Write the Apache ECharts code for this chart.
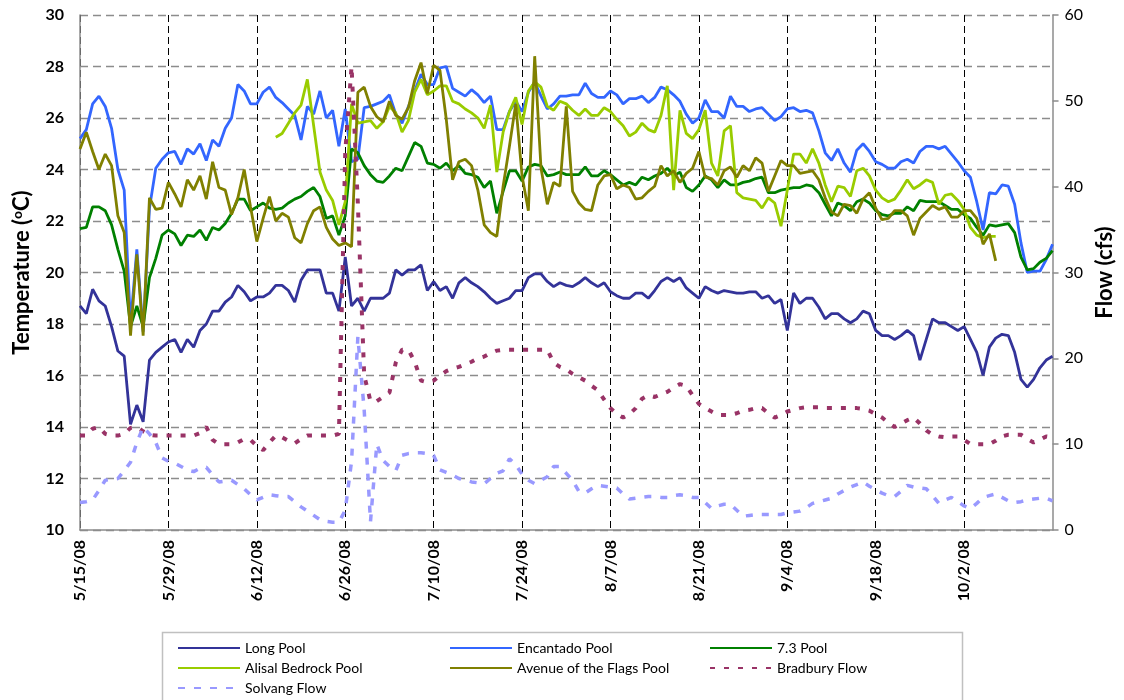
<!DOCTYPE html>
<html>
<head>
<meta charset="utf-8">
<title>Pool temperatures and flow 2008</title>
<script src="https://cdn.jsdelivr.net/npm/echarts@6/dist/echarts.min.js"></script>
<style>
  html, body { margin: 0; padding: 0; background: #fff; }
  #chart { width: 1124px; height: 700px; }
</style>
</head>
<body>
<div id="chart"></div>
<script>
// daily readings, 5/15/08 .. 10/16/08
const startDay = new Date(2008, 4, 15);
const dayCount = 155;
const labelStep = 14;

const longPool = [
  18.7, 18.4, 19.35, 18.9, 18.7, 17.9, 16.95, 16.75, 14.1, 14.85,
  14.2, 16.6, 16.9, 17.1, 17.3, 17.4, 16.9, 17.4, 17.1, 17.75,
  18.0, 18.5, 18.5, 18.85, 19.05, 19.5, 19.25, 18.9, 19.05, 19.05,
  19.2, 19.5, 19.5, 19.3, 18.85, 19.7, 20.1, 20.1, 20.1, 19.2,
  19.2, 18.5, 20.6, 18.7, 19.0, 18.5, 19.0, 19.0, 19.0, 19.2,
  20.1, 19.9, 20.1, 20.1, 20.3, 19.3, 19.65, 19.3, 19.45, 19.0,
  19.6, 19.8, 19.6, 19.45, 19.25, 19.0, 18.8, 18.9, 19.0, 19.3,
  19.3, 19.8, 19.95, 19.95, 19.65, 19.45, 19.6, 19.5, 19.45, 19.6,
  19.8, 19.6, 19.45, 19.6, 19.25, 19.1, 19.0, 19.0, 19.2, 19.2,
  19.0, 19.3, 19.65, 19.8, 19.65, 19.8, 19.4, 19.2, 19.0, 19.45,
  19.3, 19.2, 19.3, 19.25, 19.2, 19.2, 19.25, 19.25, 19.0, 19.1,
  18.8, 18.95, 17.75, 19.2, 18.8, 19.0, 19.0, 18.65, 18.2, 18.4,
  18.4, 18.2, 18.05, 18.2, 18.5, 18.4, 17.75, 17.55, 17.55, 17.4,
  17.55, 17.75, 17.55, 16.6, 17.4, 18.2, 18.05, 18.05, 17.9, 17.75,
  17.9, 17.4, 16.9, 16.0, 17.1, 17.45, 17.6, 17.55, 16.9, 15.85,
  15.55, 15.85, 16.3, 16.6, 16.75
];

const encantadoPool = [
  25.2, 25.55, 26.55, 26.85, 26.45, 25.6, 24.0, 23.2, 18.0, 20.9,
  17.7, 22.5, 24.05, 24.4, 24.65, 24.7, 24.2, 24.8, 24.6, 25.0,
  24.35, 25.15, 24.9, 25.6, 26.0, 27.3, 27.05, 26.55, 26.55, 27.0,
  27.2, 26.8, 26.6, 26.35, 26.1, 25.15, 26.45, 26.15, 27.05, 26.0,
  26.3, 24.9, 26.35, 24.3, 24.4, 26.4, 26.45, 26.55, 26.65, 26.9,
  26.15, 25.8, 26.45, 27.05, 27.7, 27.3, 27.3, 27.95, 28.0, 27.15,
  27.0, 26.85, 27.1, 26.9, 26.6, 26.85, 25.55, 25.55, 26.25, 26.65,
  26.25, 27.0, 27.4, 26.85, 26.35, 26.55, 26.85, 26.85, 26.9, 26.9,
  27.35, 26.95, 26.8, 26.8, 27.05, 26.9, 26.55, 26.75, 26.75, 26.85,
  26.6, 26.8, 27.2, 27.1, 26.9, 26.65, 26.15, 25.8, 26.0, 26.7,
  26.25, 26.25, 26.0, 26.85, 26.45, 26.45, 26.25, 26.35, 26.4, 26.15,
  25.9, 26.05, 26.35, 26.4, 26.25, 26.3, 26.2, 25.5, 24.65, 24.35,
  24.8, 24.25, 23.9, 24.75, 25.0, 24.7, 24.3, 24.2, 24.05, 24.05,
  24.3, 24.4, 24.25, 24.7, 24.9, 24.9, 24.8, 24.9, 24.6, 24.3,
  23.95, 23.7, 22.75, 21.65, 23.1, 23.05, 23.4, 23.35, 22.65, 21.15,
  20.0, 20.05, 20.05, 20.5, 21.1
];

const pool73 = [
  21.7, 21.75, 22.55, 22.55, 22.4, 21.85, 20.9, 20.05, 17.9, 18.7,
  17.9, 19.8, 20.55, 21.45, 21.65, 21.5, 21.05, 21.45, 21.4, 21.65,
  21.25, 21.75, 21.65, 21.9, 22.3, 22.85, 22.85, 22.4, 22.55, 22.7,
  22.5, 22.45, 22.5, 22.7, 22.85, 22.95, 23.15, 23.3, 22.95, 22.1,
  22.2, 21.45, 22.2, 24.8, 24.65, 24.15, 23.8, 23.55, 23.5, 23.75,
  24.05, 23.95, 24.5, 25.05, 24.9, 24.25, 24.2, 24.05, 24.25, 23.95,
  24.15, 23.85, 23.8, 23.7, 23.3, 23.55, 22.3, 23.15, 23.95, 23.95,
  23.55, 24.1, 24.2, 24.15, 23.75, 23.8, 23.9, 23.8, 23.8, 23.8,
  24.1, 23.75, 23.75, 23.95, 23.8, 23.6, 23.4, 23.5, 23.4, 23.7,
  23.6, 23.75, 23.85, 24.05, 23.75, 23.9, 23.3, 23.15, 23.4, 23.75,
  23.6, 23.3, 23.6, 23.4, 23.4, 23.5, 23.55, 23.65, 23.7, 23.1,
  23.1, 23.2, 23.25, 23.3, 23.3, 23.4, 23.35, 23.1, 22.65, 22.2,
  22.7, 22.6, 22.4, 22.75, 22.85, 22.7, 22.4, 22.25, 22.2, 22.3,
  22.3, 22.55, 22.4, 22.8, 22.75, 22.75, 22.75, 22.6, 22.45, 22.45,
  22.25, 22.1, 21.75, 21.45, 21.85, 21.8, 21.85, 21.9, 21.55, 20.6,
  20.1, 20.15, 20.4, 20.55, 20.85
];

const alisalPool = [
  null, null, null, null, null, null, null, null, null, null,
  null, null, null, null, null, null, null, null, null, null,
  null, null, null, null, null, null, null, null, null, null,
  null, 25.25, 25.4, 25.8, 26.2, 26.5, 27.5, 25.7, 23.9, 23.2,
  22.8, 21.85, 22.75, 26.55, 25.8, 25.85, 25.9, 25.6, 25.85, 26.45,
  26.2, 25.45, 25.9, 27.0, 27.5, 26.9, 27.05, 27.25, 27.25, 26.65,
  26.55, 26.35, 26.2, 26.0, 25.6, 26.5, 23.9, 25.45, 26.25, 26.8,
  25.75, 27.05, 27.4, 27.2, 26.45, 26.3, 26.65, 26.55, 26.3, 26.1,
  26.35, 26.1, 26.1, 26.4, 26.25, 25.95, 25.7, 25.3, 25.45, 25.8,
  25.55, 25.45, 26.1, 27.25, 23.2, 26.3, 25.4, 25.2, 25.55, 26.3,
  24.25, 23.75, 25.5, 25.7, 23.1, 22.9, 22.85, 22.8, 22.5, 22.9,
  22.7, 21.8, 23.2, 24.6, 24.6, 24.25, 24.8, 24.25, 23.4, 22.75,
  23.35, 23.3, 22.95, 23.95, 24.05, 23.75, 23.2, 22.9, 22.75, 22.85,
  23.2, 23.6, 23.25, 23.4, 23.6, 23.5, 22.65, 23.0, 23.05, 22.8,
  22.45, 21.75, 21.45, 21.35, 21.4, 21.4, null, null, null, null,
  null, null, null, null, null
];

const flagsPool = [
  24.8, 25.45, 24.7, 24.0, 24.6, 24.15, 22.2, 21.55, 17.55, 20.7,
  17.55, 22.9, 22.45, 22.5, 23.5, 23.05, 22.55, 23.6, 23.2, 23.75,
  22.85, 24.3, 23.3, 23.2, 22.25, 22.9, 24.0, 22.55, 21.2, 22.1,
  22.95, 22.0, 22.3, 22.15, 21.35, 21.15, 21.9, 22.4, 22.55, 21.75,
  21.3, 21.05, 21.15, 21.0, 27.0, 27.2, 26.45, 26.05, 25.85, 26.65,
  26.1, 25.95, 26.4, 27.45, 28.15, 26.95, 28.05, 27.85, 25.95, 23.6,
  24.3, 24.4, 24.15, 23.2, 21.85, 21.55, 21.4, 23.35, 24.9, 26.55,
  23.75, 22.4, 28.4, 24.05, 22.65, 23.5, 23.35, 26.45, 23.15, 22.7,
  22.45, 22.4, 23.4, 23.75, 23.8, 23.25, 23.4, 23.3, 22.85, 22.9,
  23.15, 23.35, 24.15, 23.75, 23.95, 23.5, 23.85, 24.05, 24.7, 23.7,
  23.65, 23.4, 23.95, 24.1, 23.7, 24.15, 23.95, 24.45, 24.25, 23.15,
  23.75, 24.35, 24.15, 24.15, 23.85, 23.9, 23.95, 23.6, 22.9, 22.35,
  22.2, 22.65, 22.6, 22.3, 22.85, 23.1, 22.5, 22.05, 22.1, 22.4,
  22.4, 22.2, 21.45, 22.1, 22.35, 22.6, 22.45, 22.55, 22.15, 22.15,
  22.4, 22.4, 22.1, 21.1, 21.5, 20.45, null, null, null, null,
  null, null, null, null, null
];

const bradburyFlow = [
  11, 11, 11.8, 12, 11.2, 11, 11, 11.2, 11.9, 12,
  11.5, 11.1, 11, 11, 11, 11, 11, 11, 11, 11.3,
  12, 10.5, 10, 10, 10, 10.2, 10.6, 10.5, 9.8, 9.3,
  10.2, 11, 10.8, 10.4, 10.1, 10.6, 11, 11, 11, 11,
  11, 11.2, 44, 54, 38, 18, 15, 15, 15.5, 16,
  19.5, 21, 21, 19.6, 17.4, 17.2, 17.4, 18, 18.5, 18.8,
  19, 19.3, 19.6, 20, 20.2, 20.6, 20.9, 21, 21, 21,
  21, 21, 21, 21, 21, 19.5, 19, 18.7, 18.2, 17.8,
  17.4, 16.8, 16.3, 15.2, 14.2, 13.5, 13.1, 13.5, 14.2, 15.3,
  15.7, 15.5, 15.8, 16.1, 16.6, 17, 16.8, 15.7, 14.7, 14.2,
  13.8, 13.4, 13.4, 13.4, 13.6, 13.9, 14, 14.2, 14.2, 13.6,
  13.1, 13.4, 13.8, 14, 14.2, 14.3, 14.3, 14.3, 14.2, 14.2,
  14.2, 14.2, 14.2, 14.2, 14.1, 13.9, 13.5, 13.1, 12.5, 12,
  12.4, 12.8, 13.1, 12.4, 11.6, 11.1, 10.9, 10.8, 10.9, 10.9,
  10.5, 10, 10, 10, 10, 10.4, 10.9, 11.1, 11.1, 11.1,
  10.6, 10.2, 10.5, 10.9, 10.8
];

const solvangFlow = [
  3.2, 3.3, 3.5, 4.6, 5.8, 5.9, 6.0, 6.9, 7.9, 10.2,
  12, 11.2, 10.2, 8.4, 8.0, 7.8, 7.4, 7.0, 6.8, 7.2,
  7.3, 6.4, 5.6, 5.7, 5.8, 5.3, 4.8, 4.1, 3.5, 3.8,
  4.1, 4.0, 3.9, 3.9, 3.3, 2.7, 2.2, 1.7, 1.2, 1.0,
  0.9, 0.9, 2.3, 8, 22.5, 14, 1.0, 10, 8.1, 7.4,
  6.9, 8.7, 8.9, 9.0, 9.0, 8.9, 8.7, 7.0, 6.7, 6.4,
  6.0, 5.8, 5.6, 5.5, 5.4, 6.0, 6.6, 6.9, 8.3, 7.6,
  6.5, 5.8, 5.4, 5.8, 6.2, 7.4, 7.4, 6.6, 5.8, 4.5,
  4.3, 4.8, 5.2, 5.1, 5.0, 4.9, 4.2, 3.6, 3.7, 3.8,
  3.9, 3.9, 3.8, 3.8, 4.0, 4.1, 4.0, 3.8, 3.8, 3.2,
  2.5, 2.8, 3.0, 3.0, 2.3, 1.6, 1.7, 1.8, 1.8, 1.8,
  1.8, 1.8, 2.0, 2.1, 2.2, 2.6, 3.1, 3.3, 3.5, 3.7,
  4.2, 4.6, 5.0, 5.3, 5.6, 5.1, 4.7, 4.3, 4.0, 3.9,
  4.5, 5.2, 5.0, 4.9, 4.8, 4.0, 3.1, 3.5, 3.8, 3.3,
  2.8, 2.5, 3.1, 3.8, 4.0, 4.2, 3.8, 3.4, 3.2, 3.3,
  3.5, 3.6, 3.7, 3.7, 3.4
];

// date labels m/d/08
const dates = [];
for (let i = 0; i < dayCount; i++) {
  const d = new Date(startDay.getFullYear(), startDay.getMonth(), startDay.getDate() + i);
  dates.push((d.getMonth() + 1) + '/' + d.getDate() + '/08');
}

const font = 'Lato, "Open Sans", sans-serif';
const axisGrey = '#8c8c8c';

// a label + dashed gridline every two weeks, none on the last day
const everyTwoWeeks = (i) => i % labelStep === 0 && i < dayCount - 1;

function tempLine(name, data, color) {
  return {
    name: name, type: 'line', yAxisIndex: 0, data: data,
    symbol: 'none', connectNulls: false,
    lineStyle: { color: color, width: 2.8 },
    itemStyle: { color: color }
  };
}

function flowLine(name, data, color, dash, width) {
  return {
    name: name, type: 'line', yAxisIndex: 1, data: data,
    symbol: 'none',
    lineStyle: { color: color, width: width, type: dash, cap: 'butt' },
    itemStyle: { color: color }
  };
}

const chart = echarts.init(document.getElementById('chart'), null, { renderer: 'canvas' });

const legendBase = {
  orient: 'vertical', top: 636, height: 70,
  itemWidth: 62, itemHeight: 14, itemGap: 6,
  selectedMode: false,
  itemStyle: { opacity: 0 },
  textStyle: { color: '#000', fontSize: 14, lineHeight: 14, fontFamily: font }
};

chart.setOption({
  animation: false,
  backgroundColor: '#fff',
  grid: { left: 80, right: 61, top: 15, bottom: 170 },
  legend: [
    Object.assign({}, legendBase, { left: 172, data: ['Long Pool', 'Alisal Bedrock Pool', 'Solvang Flow'] }),
    Object.assign({}, legendBase, { left: 444, data: ['Encantado Pool', 'Avenue of the Flags Pool'] }),
    Object.assign({}, legendBase, { left: 704, data: ['7.3 Pool', 'Bradbury Flow'] })
  ],
  graphic: [{
    type: 'rect', left: 160, top: 630,
    shape: { width: 800, height: 80 },
    style: { fill: 'none', stroke: '#c0c0c0', lineWidth: 1.5 },
    silent: true
  }],
  xAxis: {
    type: 'category', data: dates, boundaryGap: false,
    axisLine: { lineStyle: { color: axisGrey, width: 1.5 } },
    axisTick: { show: false },
    axisLabel: {
      interval: everyTwoWeeks, rotate: 90, margin: 10,
      color: '#000', fontWeight: 'bold', fontSize: 16, fontFamily: font
    },
    splitLine: {
      show: true, interval: everyTwoWeeks,
      lineStyle: { color: '#000', type: [7, 4], width: 1 }
    }
  },
  yAxis: [
    {
      type: 'value', min: 10, max: 30, interval: 2,
      name: '{t|Temperature (}{s|o}{t|C)}',
      nameLocation: 'middle', nameRotate: 90, nameGap: 46,
      nameTextStyle: {
        rich: {
          t: { fontSize: 22, fontWeight: 'bold', color: '#000', fontFamily: font },
          s: { fontSize: 14, fontWeight: 'bold', color: '#000', fontFamily: font, padding: [0, 0, 10, 0] }
        }
      },
      axisLine: { show: true, lineStyle: { color: axisGrey, width: 1.5 } },
      axisTick: { show: false },
      axisLabel: { color: '#000', fontWeight: 'bold', fontSize: 16, fontFamily: font, margin: 16 },
      splitLine: { show: true, lineStyle: { color: axisGrey, type: [8, 5], width: 1.3 } }
    },
    {
      type: 'value', min: 0, max: 60, interval: 10, position: 'right',
      name: 'Flow (cfs)',
      nameLocation: 'middle', nameRotate: 90, nameGap: 36,
      nameTextStyle: { fontSize: 22, fontWeight: 'bold', color: '#000', fontFamily: font },
      axisLine: { show: true, lineStyle: { color: axisGrey, width: 1.5 } },
      axisTick: { show: true, length: 6, lineStyle: { color: axisGrey, width: 1.5 } },
      axisLabel: { color: '#000', fontSize: 16, fontFamily: font, margin: 12 },
      splitLine: { show: false }
    }
  ],
  series: [
    tempLine('Long Pool', longPool, '#333399'),
    tempLine('Encantado Pool', encantadoPool, '#3366ff'),
    tempLine('7.3 Pool', pool73, '#008000'),
    tempLine('Alisal Bedrock Pool', alisalPool, '#99cc00'),
    tempLine('Avenue of the Flags Pool', flagsPool, '#808000'),
    flowLine('Bradbury Flow', bradburyFlow, '#993366', [5, 9], 4),
    flowLine('Solvang Flow', solvangFlow, '#9999ff', [7, 9], 3.5)
  ]
});

window.addEventListener('resize', () => chart.resize());
</script>
</body>
</html>
